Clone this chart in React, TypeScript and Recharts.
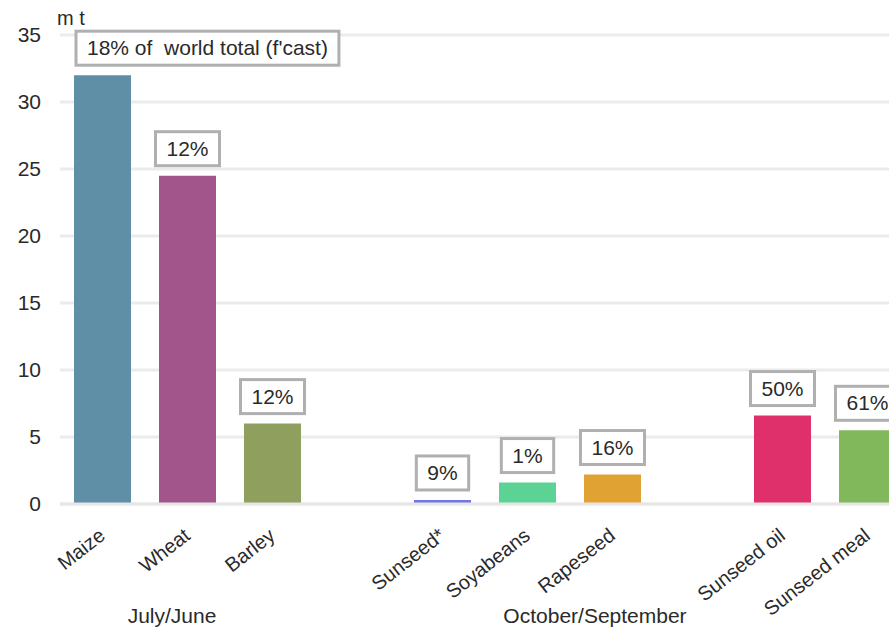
import { BarChart, Bar, XAxis, YAxis, CartesianGrid, Cell, LabelList } from 'recharts';

const categories = ['Maize', 'Wheat', 'Barley', '', 'Sunseed*', 'Soyabeans', 'Rapeseed', '', 'Sunseed oil', 'Sunseed meal'];
const volumes = [32, 24.5, 6, null, 0.3, 1.6, 2.2, null, 6.6, 5.5];
const shareLabels = ["18% of  world total (f'cast)", '12%', '12%', '', '9%', '1%', '16%', '', '50%', '61%'];
const barColors = ['#5f8ea7', '#a2558b', '#8fa05e', '#fff', '#7474e0', '#5cd394', '#e0a232', '#fff', '#e0306c', '#81b85b'];
const yTicks = [0, 5, 10, 15, 20, 25, 30, 35];
const groupLabels = ['July/June', 'October/September'];

const data = categories.map((name, i) => ({ name, volume: volumes[i], share: shareLabels[i] }));

const FONT = '"Liberation Sans", Arial, sans-serif';
const LABEL_SIZE = 21;

let ctx: CanvasRenderingContext2D | null = null;
const measure = (s: string, size: number) => {
  if (!ctx) ctx = document.createElement('canvas').getContext('2d');
  if (!ctx) return s.length * size * 0.55;
  ctx.font = `${size}px ${FONT}`;
  return ctx.measureText(s).width;
};

const ShareBox = (props: any) => {
  const { x, y, width, value } = props;
  if (!value) return null;
  const w = measure(String(value), LABEL_SIZE) + 22;
  const h = 34;
  const cx = x + width / 2;
  const left = w > width + 30 ? x + 2 : cx - w / 2;
  const top = y - 10 - h;
  return (
    <g>
      <rect x={left} y={top} width={w} height={h} fill="#fff" stroke="#b0b0b0" strokeWidth={3} />
      <text
        x={left + w / 2}
        y={top + h / 2 + 7}
        textAnchor="middle"
        fontSize={LABEL_SIZE}
        fill="#2a2a2a"
        fontFamily={FONT}
        style={{ whiteSpace: 'pre' }}
      >
        {value}
      </text>
    </g>
  );
};

const CategoryTick = (props: any) => {
  const { x, y, payload } = props;
  const tx = x + 4;
  const ty = y + 26;
  return (
    <text x={tx} y={ty} textAnchor="end" fontSize={20} fill="#2a2a2a" fontFamily={FONT} transform={`rotate(-38 ${tx} ${ty})`}>
      {payload.value}
    </text>
  );
};

export default function App() {
  return (
    <div style={{ position: 'absolute', left: 0, top: 0, width: 889, height: 629, overflow: 'hidden', background: '#fff', fontFamily: FONT }}>
      <BarChart width={920} height={629} data={data} margin={{ top: 35, right: 10, left: 0, bottom: 0 }}>
        <CartesianGrid vertical={false} stroke="#ebebeb" strokeWidth={3} />
        <XAxis
          dataKey="name"
          height={125}
          axisLine={{ stroke: '#e6e6e6', strokeWidth: 3 }}
          tickLine={false}
          interval={0}
          tick={<CategoryTick />}
        />
        <YAxis
          width={60}
          domain={[0, 35]}
          ticks={yTicks}
          axisLine={false}
          tickLine={false}
          tickSize={0}
          tickMargin={19}
          tick={{ fontSize: 21, fill: '#2a2a2a', fontFamily: FONT }}
        />
        <Bar dataKey="volume" barSize={57} isAnimationActive={false}>
          {data.map((d, i) => (
            <Cell key={i} fill={barColors[i]} />
          ))}
          <LabelList dataKey="share" content={<ShareBox />} />
        </Bar>
      </BarChart>
      <div style={{ position: 'absolute', left: 57, top: 7, fontSize: 20, color: '#2a2a2a' }}>m t</div>
      <div style={{ position: 'absolute', left: 72, width: 200, top: 604, textAlign: 'center', fontSize: 21, color: '#2a2a2a' }}>{groupLabels[0]}</div>
      <div style={{ position: 'absolute', left: 445, width: 300, top: 604, textAlign: 'center', fontSize: 21, color: '#2a2a2a' }}>{groupLabels[1]}</div>
    </div>
  );
}
